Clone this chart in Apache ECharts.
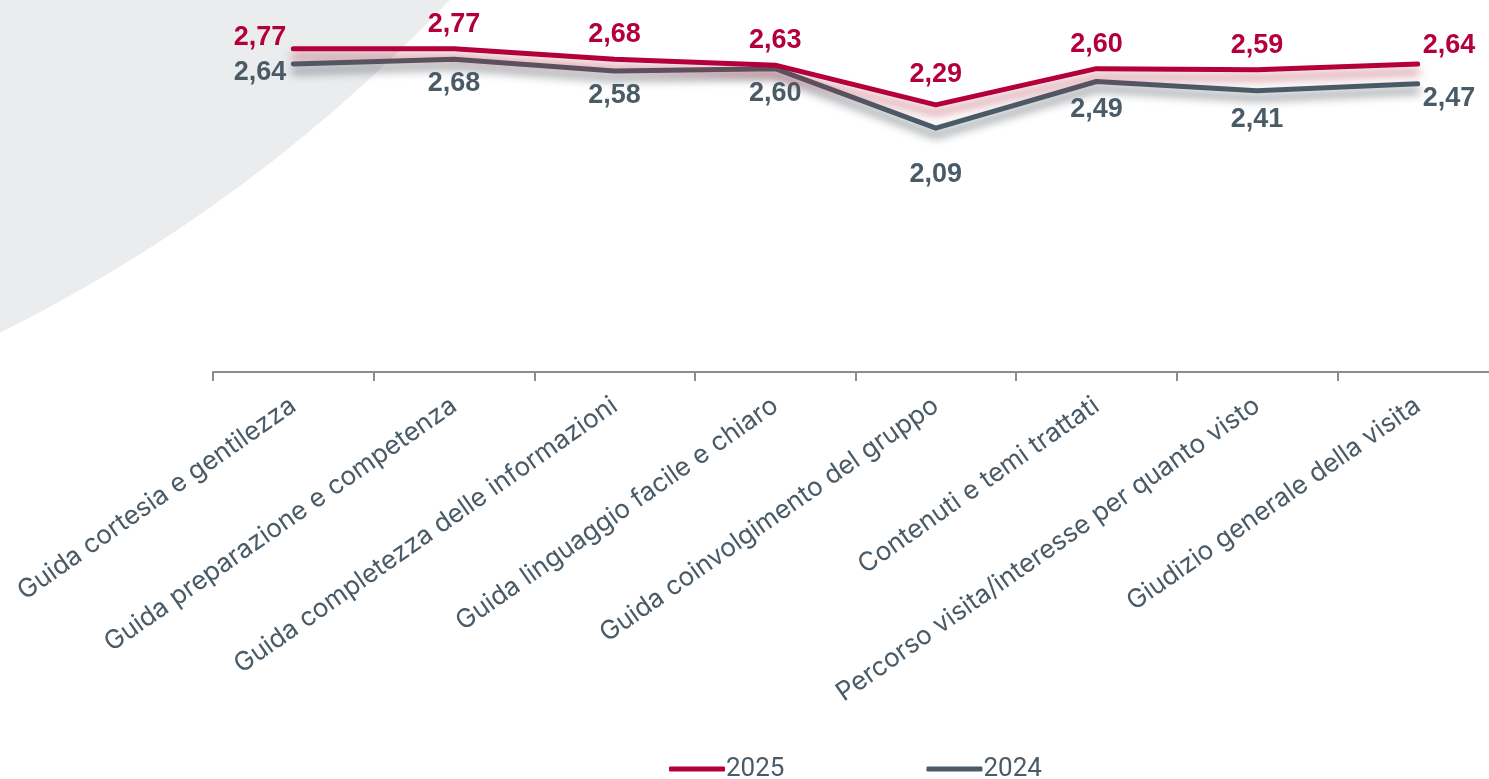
<!DOCTYPE html>
<html>
<head>
<meta charset="utf-8">
<script src="https://cdn.jsdelivr.net/npm/echarts@6/dist/echarts.min.js"></script>
<style>
  html, body { margin: 0; padding: 0; background: #fff; overflow: hidden; }
  /* slightly wider than the window: the axis runs past the right edge in the original */
  #chart { width: 1498px; height: 779px; }
</style>
</head>
<body>
<div id="chart"></div>
<script>
const categories = [
  'Guida cortesia e gentilezza',
  'Guida preparazione e competenza',
  'Guida completezza delle informazioni',
  'Guida linguaggio facile e chiaro',
  'Guida coinvolgimento del gruppo',
  'Contenuti e temi trattati',
  'Percorso visita/interesse per quanto visto',
  'Giudizio generale della visita'
]
const values2025 = [2.77, 2.77, 2.68, 2.63, 2.29, 2.60, 2.59, 2.64]
const values2024 = [2.64, 2.68, 2.58, 2.60, 2.09, 2.49, 2.41, 2.47]

const RED = '#b4003a'
const SLATE = '#4a5b68'
const fmt = v => v.toFixed(2).replace('.', ',')

// first point labels go left, last go right, the rest above/below
function labelled(values, side, extra) {
  const last = values.length - 1
  return values.map((v, i) => {
    let label
    if (i === 0) label = { position: 'left', distance: 6, offset: [0, side === 'top' ? -11 : 9] }
    else if (i === last) label = { position: 'right', distance: 4, offset: [0, side === 'top' ? -18 : 15] }
    else label = { position: side, distance: 10, offset: [0, extra[i] || 0] }
    return { value: v, label }
  })
}

const chart = echarts.init(document.getElementById('chart'))
chart.setOption({
  animation: false,
  graphic: [{
    type: 'circle',
    z: -10,
    shape: { cx: -706, cy: -1092, r: 1590 },
    style: { fill: '#ebecee' }
  }],
  grid: { left: 213, right: 0, top: 22, bottom: 407 },
  legend: {
    left: 664,
    bottom: -8,
    itemGap: 142,
    itemWidth: 56,
    itemHeight: 5,
    textStyle: { fontFamily: 'Roboto', fontSize: 26, color: SLATE, padding: [0, 0, 0, -4] },
    data: [
      { name: '2025', icon: 'roundRect', itemStyle: { color: RED } },
      { name: '2024', icon: 'roundRect', itemStyle: { color: SLATE } }
    ]
  },
  xAxis: {
    type: 'category',
    data: categories,
    axisLine: { lineStyle: { color: '#8c8c8c', width: 2 } },
    axisTick: { show: true, length: 9, lineStyle: { color: '#8c8c8c', width: 2 } },
    axisLabel: {
      interval: 0,
      rotate: 35,
      margin: 31,
      fontFamily: 'Inter',
      fontSize: 26,
      color: SLATE
    }
  },
  yAxis: {
    type: 'value',
    min: 0,
    max: 3,
    show: false,
    splitLine: { show: false }
  },
  series: [
    {
      name: '2024',
      type: 'line',
      symbol: 'circle',
      symbolSize: 2,
      z: 2,
      data: labelled(values2024, 'bottom', { 4: 22, 5: 4, 6: 4 }),
      lineStyle: {
        color: SLATE, width: 5, cap: 'round', join: 'round',
        shadowColor: 'rgba(40,50,60,0.6)', shadowBlur: 10, shadowOffsetY: 7
      },
      itemStyle: { color: SLATE },
      label: {
        show: true,
        formatter: p => fmt(p.value),
        fontFamily: 'Liberation Sans',
        fontWeight: 'bold',
        fontSize: 27,
        color: SLATE
      }
    },
    {
      name: '2025',
      type: 'line',
      symbol: 'circle',
      symbolSize: 2,
      z: 3,
      data: labelled(values2025, 'top', { 4: -6 }),
      lineStyle: {
        color: RED, width: 5, cap: 'round', join: 'round',
        shadowColor: 'rgba(170,40,60,0.6)', shadowBlur: 10, shadowOffsetY: 8
      },
      itemStyle: { color: RED },
      label: {
        show: true,
        formatter: p => fmt(p.value),
        fontFamily: 'Liberation Sans',
        fontWeight: 'bold',
        fontSize: 27,
        color: RED
      }
    }
  ]
})
</script>
</body>
</html>
